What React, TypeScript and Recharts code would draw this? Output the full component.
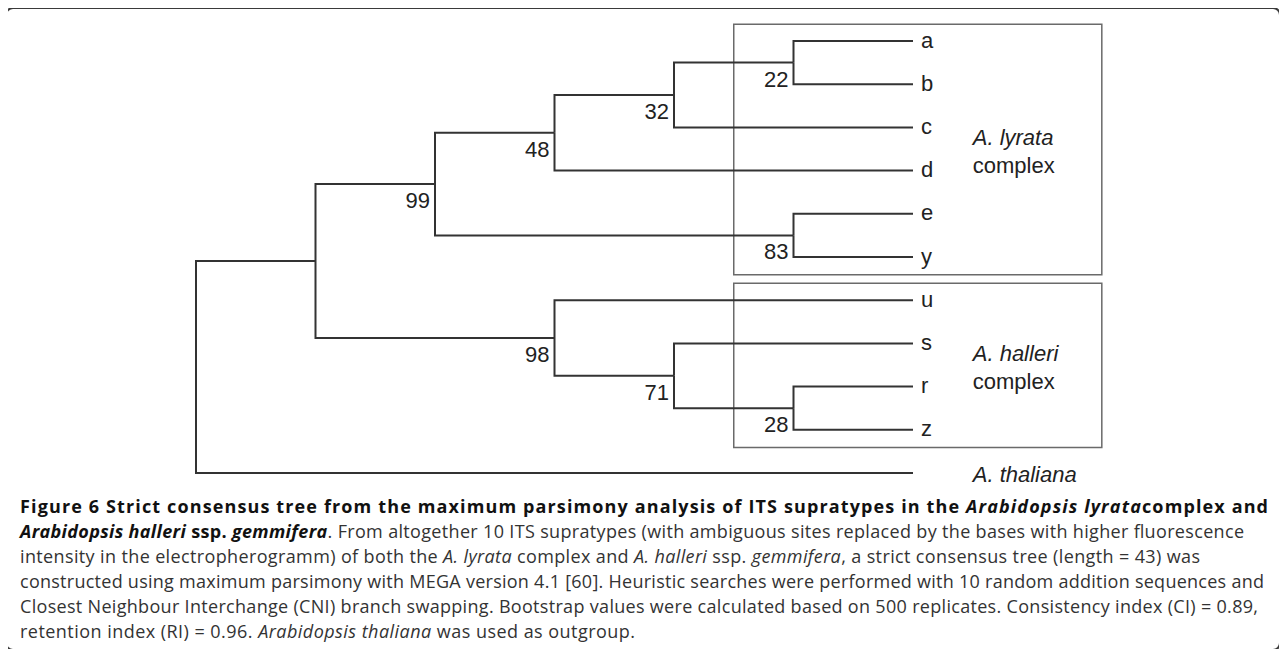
import React from 'react';
import { ScatterChart, Scatter, XAxis, YAxis, ReferenceArea } from 'recharts';

// leaves, top to bottom
const leafNames = ['a', 'b', 'c', 'd', 'e', 'y', 'u', 's', 'r', 'z'];
const outgroup = 'A. thaliana';

// internal nodes of the strict consensus tree
const nodeIds = ['root', 'ingroup', 'n99', 'n48', 'n32', 'n22', 'n83', 'n98', 'n71', 'n28'];
const nodeDepths = [0, 1, 2, 3, 4, 5, 5, 3, 4, 5];
const nodeChildren = [
  ['ingroup', 'A. thaliana'],
  ['n99', 'n98'],
  ['n48', 'n83'],
  ['n32', 'd'],
  ['n22', 'c'],
  ['a', 'b'],
  ['e', 'y'],
  ['u', 'n71'],
  ['s', 'n28'],
  ['r', 'z'],
];
const bootstrap = [null, null, 99, 48, 32, 22, 83, 98, 71, 28];
const leafDepth = 6;

// boxed groups
const groupNames = ['A. lyrata', 'A. halleri'];
const groupFirstLeaf = ['a', 'u'];
const groupLastLeaf = ['y', 'z'];

const W = 1287;
const H = 490;
const X_UNIT = 119.5;
const X_ROOT = 196;
const Y_UNIT = 43.2;
const Y_TOP = 41;
const LABEL_X = 6.5;
const LINE = '#333';
const TREE_FONT = "'Liberation Sans', Arial, sans-serif";

// place nodes (cladogram: parents midway between children)
const leafOrder = [...leafNames, outgroup];
const pos: Record<string, { x: number; y: number }> = {};
leafOrder.forEach((n, i) => (pos[n] = { x: leafDepth, y: i }));
function place(id: string): { x: number; y: number } {
  if (pos[id]) return pos[id];
  const k = nodeIds.indexOf(id);
  const ys = nodeChildren[k].map((c) => place(c).y);
  pos[id] = { x: nodeDepths[k], y: (Math.min(...ys) + Math.max(...ys)) / 2 };
  return pos[id];
}
place('root');

const branches: { x: number; y: number }[][] = [];
nodeIds.forEach((id, k) => {
  const p = pos[id];
  nodeChildren[k].forEach((c) => {
    const q = pos[c];
    branches.push([
      { x: p.x, y: p.y },
      { x: p.x, y: q.y },
      { x: q.x, y: q.y },
    ]);
  });
});

const supportData = nodeIds
  .map((id, k) => ({ ...pos[id], label: bootstrap[k] }))
  .filter((d) => d.label != null);
const leafData = leafNames.map((n) => ({ ...pos[n], label: n }));
const groupData = groupNames.map((n, i) => ({
  x: LABEL_X,
  y: (pos[groupFirstLeaf[i]].y + pos[groupLastLeaf[i]].y) / 2,
  label: n,
}));
const outgroupData = [{ x: LABEL_X, y: pos[outgroup].y, label: outgroup }];

const Empty = () => <g />;

const SupportLabel = (p: any) => (
  <text x={p.cx - 5} y={p.cy + 24} textAnchor="end" fontSize={22} fontFamily={TREE_FONT} fill="#222">
    {p.payload.label}
  </text>
);
const LeafLabel = (p: any) => (
  <text x={p.cx + 8} y={p.cy + 6.5} fontSize={22} fontFamily={TREE_FONT} fill="#222">
    {p.payload.label}
  </text>
);
const GroupLabel = (p: any) => (
  <text fontSize={22} fontFamily={TREE_FONT} fill="#222">
    <tspan x={p.cx} y={p.cy - 4.5} fontStyle="italic">{p.payload.label}</tspan>
    <tspan x={p.cx} y={p.cy + 23.5}>complex</tspan>
  </text>
);
const OutgroupLabel = (p: any) => (
  <text x={p.cx} y={p.cy + 9} fontSize={22} fontStyle="italic" fontFamily={TREE_FONT} fill="#222">
    {p.payload.label}
  </text>
);

// caption line: baseline in page px, justified width
function CapLine({ y, w, children }: { y: number; w: number; children: React.ReactNode }) {
  return (
    <text x={20} y={y - 490} textLength={w} lengthAdjust="spacing" style={{ whiteSpace: 'pre' }}>
      {children}
    </text>
  );
}

export default function App() {
  return (
    <div style={{ position: 'relative', width: W - 16, height: 641 }}>
      <div
        style={{
          position: 'absolute',
          left: -3,
          top: -1,
          width: 1276,
          height: 644,
          boxSizing: 'border-box',
          border: '2px solid #3a3a3a',
          borderRadius: 8,
        }}
      />
      <div style={{ position: 'absolute', left: -8, top: -8 }}>
        <ScatterChart width={W} height={H} margin={{ top: 0, right: 0, bottom: 0, left: 0 }}>
          <XAxis type="number" dataKey="x" domain={[-X_ROOT / X_UNIT, (W - X_ROOT) / X_UNIT]} allowDataOverflow hide />
          <YAxis type="number" dataKey="y" domain={[-Y_TOP / Y_UNIT, (H - Y_TOP) / Y_UNIT]} allowDataOverflow reversed hide />
          {groupFirstLeaf.map((f, i) => (
            <ReferenceArea
              key={f}
              x1={4.5}
              x2={7.58}
              y1={pos[f].y - 0.39}
              y2={pos[groupLastLeaf[i]].y + 0.41}
              fill="none"
              fillOpacity={0}
              stroke="#6a6a6a"
              strokeWidth={1.5}
              ifOverflow="visible"
            />
          ))}
          {branches.map((b, i) => (
            <Scatter
              key={i}
              data={b}
              line={{ stroke: LINE, strokeWidth: 2 }}
              shape={Empty}
              isAnimationActive={false}
            />
          ))}
          <Scatter data={supportData} shape={SupportLabel} isAnimationActive={false} />
          <Scatter data={leafData} shape={LeafLabel} isAnimationActive={false} />
          <Scatter data={groupData} shape={GroupLabel} isAnimationActive={false} />
          <Scatter data={outgroupData} shape={OutgroupLabel} isAnimationActive={false} />
        </ScatterChart>
      </div>
      <svg
        width={W}
        height={160}
        style={{ position: 'absolute', left: -8, top: 482 }}
        fontFamily="'Open Sans', sans-serif"
        fontSize={18}
        fill="#333"
      >
        <CapLine y={513} w={1248}>
          <tspan fontWeight={700} fill="#111">
            Figure 6 Strict consensus tree from the maximum parsimony analysis of ITS supratypes in the{' '}
          </tspan>
          <tspan fontWeight={700} fontStyle="italic" fill="#111">Arabidopsis lyrata</tspan>
          <tspan fontWeight={700} fill="#111">complex and</tspan>
        </CapLine>
        <CapLine y={538} w={1224}>
          <tspan fontWeight={700} fontStyle="italic" fill="#111">Arabidopsis halleri</tspan>
          <tspan fontWeight={700} fill="#111"> ssp. </tspan>
          <tspan fontWeight={700} fontStyle="italic" fill="#111">gemmifera</tspan>
          <tspan>. From altogether 10 ITS supratypes (with ambiguous sites replaced by the bases with higher fluorescence</tspan>
        </CapLine>
        <CapLine y={563} w={1180}>
          <tspan>intensity in the electropherogramm) of both the </tspan>
          <tspan fontStyle="italic">A. lyrata</tspan>
          <tspan> complex and </tspan>
          <tspan fontStyle="italic">A. halleri</tspan>
          <tspan> ssp. </tspan>
          <tspan fontStyle="italic">gemmifera</tspan>
          <tspan>, a strict consensus tree (length = 43) was</tspan>
        </CapLine>
        <CapLine y={588} w={1244}>
          constructed using maximum parsimony with MEGA version 4.1 [60]. Heuristic searches were performed with 10 random addition sequences and
        </CapLine>
        <CapLine y={613} w={1238}>
          Closest Neighbour Interchange (CNI) branch swapping. Bootstrap values were calculated based on 500 replicates. Consistency index (CI) = 0.89,
        </CapLine>
        <CapLine y={638} w={615}>
          <tspan>retention index (RI) = 0.96. </tspan>
          <tspan fontStyle="italic">Arabidopsis thaliana</tspan>
          <tspan> was used as outgroup.</tspan>
        </CapLine>
      </svg>
    </div>
  );
}
